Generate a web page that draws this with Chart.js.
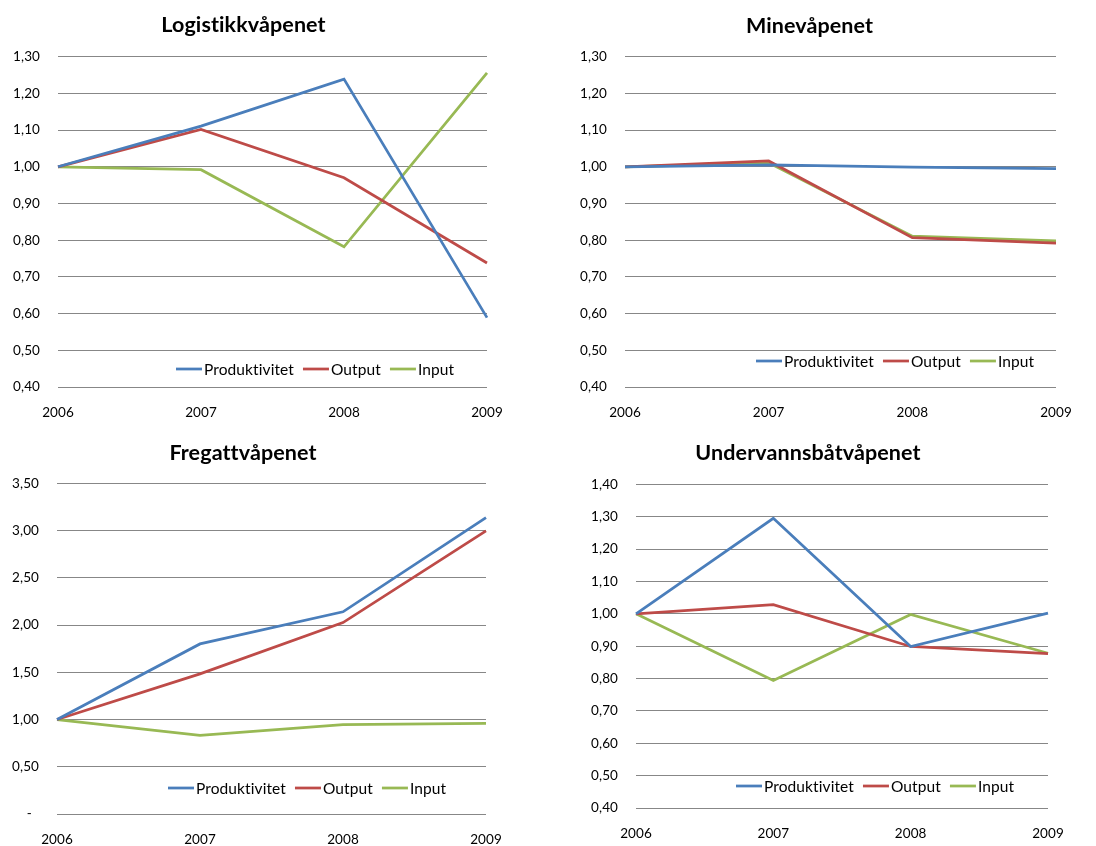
<!DOCTYPE html>
<html>
<head>
<meta charset="utf-8">
<script src="https://cdn.jsdelivr.net/npm/chart.js@4.4.1/dist/chart.umd.min.js"></script>
<style>
  html, body { margin: 0; padding: 0; background: #ffffff; }
  body { width: 1096px; height: 846px; position: relative; overflow: hidden; }
  .panel { position: absolute; }
</style>
</head>
<body>
<div class="panel" id="p1" style="left:0px; top:0px; width:521px; height:423px;"><canvas id="c1"></canvas></div>
<div class="panel" id="p2" style="left:563px; top:0px; width:533px; height:423px;"><canvas id="c2"></canvas></div>
<div class="panel" id="p3" style="left:0px; top:423px; width:521px; height:423px;"><canvas id="c3"></canvas></div>
<div class="panel" id="p4" style="left:568px; top:423px; width:528px; height:423px;"><canvas id="c4"></canvas></div>
<script>
// Years on the x axis (shared by all four panels)
const years = ['2006', '2007', '2008', '2009'];
const seriesNames = ['Produktivitet', 'Output', 'Input'];

// Logistikkvåpenet
const logProduktivitet = [1.00, 1.111, 1.239, 0.589];
const logOutput        = [1.00, 1.102, 0.970, 0.738];
const logInput         = [1.00, 0.992, 0.782, 1.256];

// Minevåpenet
const mineProduktivitet = [1.00, 1.005, 0.999, 0.995];
const mineOutput        = [1.00, 1.016, 0.807, 0.792];
const mineInput         = [1.00, 1.011, 0.811, 0.798];

// Fregattvåpenet
const fregProduktivitet = [1.00, 1.80, 2.14, 3.136];
const fregOutput        = [1.00, 1.483, 2.026, 2.996];
const fregInput         = [1.00, 0.831, 0.947, 0.958];

// Undervannsbåtvåpenet
const ubProduktivitet = [1.00, 1.295, 0.899, 1.002];
const ubOutput        = [1.00, 1.028, 0.899, 0.877];
const ubInput         = [1.00, 0.794, 0.998, 0.878];

// Y-axis ranges per panel: [min, max, step]
const logAxis  = [0.40, 1.30, 0.10];
const mineAxis = [0.40, 1.30, 0.10];
const fregAxis = [0.00, 3.50, 0.50];
const ubAxis   = [0.40, 1.40, 0.10];

const COLORS = ['#4A7EBB', '#BE4B48', '#98B954'];
const FONT = 'Lato, "Open Sans", "DejaVu Sans", sans-serif';

// Norwegian number format with comma decimal; zero drawn as a dash
function fmtTick(v) {
  if (Math.abs(v) < 1e-9) return '-  ';
  return v.toFixed(2).replace('.', ',');
}

// A tiny letter spacing keeps the font from merging "ti" into a ligature
const plainText = {
  id: 'plainText',
  beforeDraw(chart) {
    if ('letterSpacing' in chart.ctx) chart.ctx.letterSpacing = '0.1px';
  }
};

// Legend drawn inside the plot area, near its bottom
const innerLegend = {
  id: 'innerLegend',
  afterDatasetsDraw(chart, args, opts) {
    const ctx = chart.ctx;
    ctx.save();
    ctx.font = '15.5px ' + FONT;
    ctx.textBaseline = 'middle';
    ctx.textAlign = 'left';
    let x = opts.x;
    const y = opts.y;
    chart.data.datasets.forEach(ds => {
      ctx.strokeStyle = ds.borderColor;
      ctx.lineWidth = 2.75;
      ctx.lineCap = 'butt';
      ctx.beginPath();
      ctx.moveTo(x, y);
      ctx.lineTo(x + 26, y);
      ctx.stroke();
      ctx.fillStyle = '#000000';
      ctx.fillText(ds.label, x + 28, y + 0.5);
      x += 28 + ctx.measureText(ds.label).width + 9;
    });
    ctx.restore();
  }
};

function makeChart(id, title, series, axis, geo) {
  const datasets = series.map((vals, i) => ({
    label: seriesNames[i],
    data: vals,
    borderColor: COLORS[i],
    backgroundColor: COLORS[i],
    borderWidth: 2.75,
    pointRadius: 0,
    pointHoverRadius: 0,
    tension: 0,
    fill: false
  }));
  return new Chart(document.getElementById(id), {
    type: 'line',
    data: { labels: years, datasets },
    plugins: [plainText, innerLegend],
    options: {
      responsive: true,
      maintainAspectRatio: false,
      animation: false,
      events: [],
      layout: { padding: { left: 0, top: 0, right: geo.padRight, bottom: 0 } },
      plugins: {
        legend: { display: false },
        tooltip: { enabled: false },
        title: {
          display: true,
          text: title,
          color: '#000000',
          font: { family: FONT, size: 21.5, weight: 'bold', lineHeight: 1.2 },
          padding: { top: geo.titleTop, bottom: geo.titleBottom }
        },
        innerLegend: { x: geo.legendX, y: geo.legendY }
      },
      scales: {
        x: {
          type: 'category',
          offset: false,
          grid: { display: false, drawTicks: false },
          border: { display: false },
          ticks: {
            color: '#000000',
            font: { family: FONT, size: 13.5 },
            padding: 18,
            maxRotation: 0,
            autoSkip: false
          },
          afterFit(scale) { scale.height = geo.xHeight; }
        },
        y: {
          min: axis[0],
          max: axis[1],
          grid: { color: '#878787', lineWidth: 1, drawTicks: false },
          border: { display: false },
          ticks: {
            stepSize: axis[2],
            color: '#000000',
            font: { family: FONT, size: 13.5 },
            padding: 18,
            callback: v => fmtTick(v)
          },
          afterFit(scale) { scale.width = geo.yWidth; }
        }
      }
    }
  });
}

makeChart('c1', 'Logistikkvåpenet', [logProduktivitet, logOutput, logInput], logAxis,
  { yWidth: 58, padRight: 34, titleTop: 12.1, titleBottom: 18.8, xHeight: 36, legendX: 176, legendY: 369 });

makeChart('c2', 'Minevåpenet', [mineProduktivitet, mineOutput, mineInput], mineAxis,
  { yWidth: 62, padRight: 40, titleTop: 13.1, titleBottom: 17.8, xHeight: 36, legendX: 193, legendY: 361 });

makeChart('c3', 'Fregattvåpenet', [fregProduktivitet, fregOutput, fregInput], fregAxis,
  { yWidth: 57, padRight: 35, titleTop: 17.4, titleBottom: 17.1, xHeight: 32, legendX: 168, legendY: 365 });

makeChart('c4', 'Undervannsbåtvåpenet', [ubProduktivitet, ubOutput, ubInput], ubAxis,
  { yWidth: 68, padRight: 48, titleTop: 17.4, titleBottom: 18.1, xHeight: 38, legendX: 168, legendY: 363 });
</script>
</body>
</html>
